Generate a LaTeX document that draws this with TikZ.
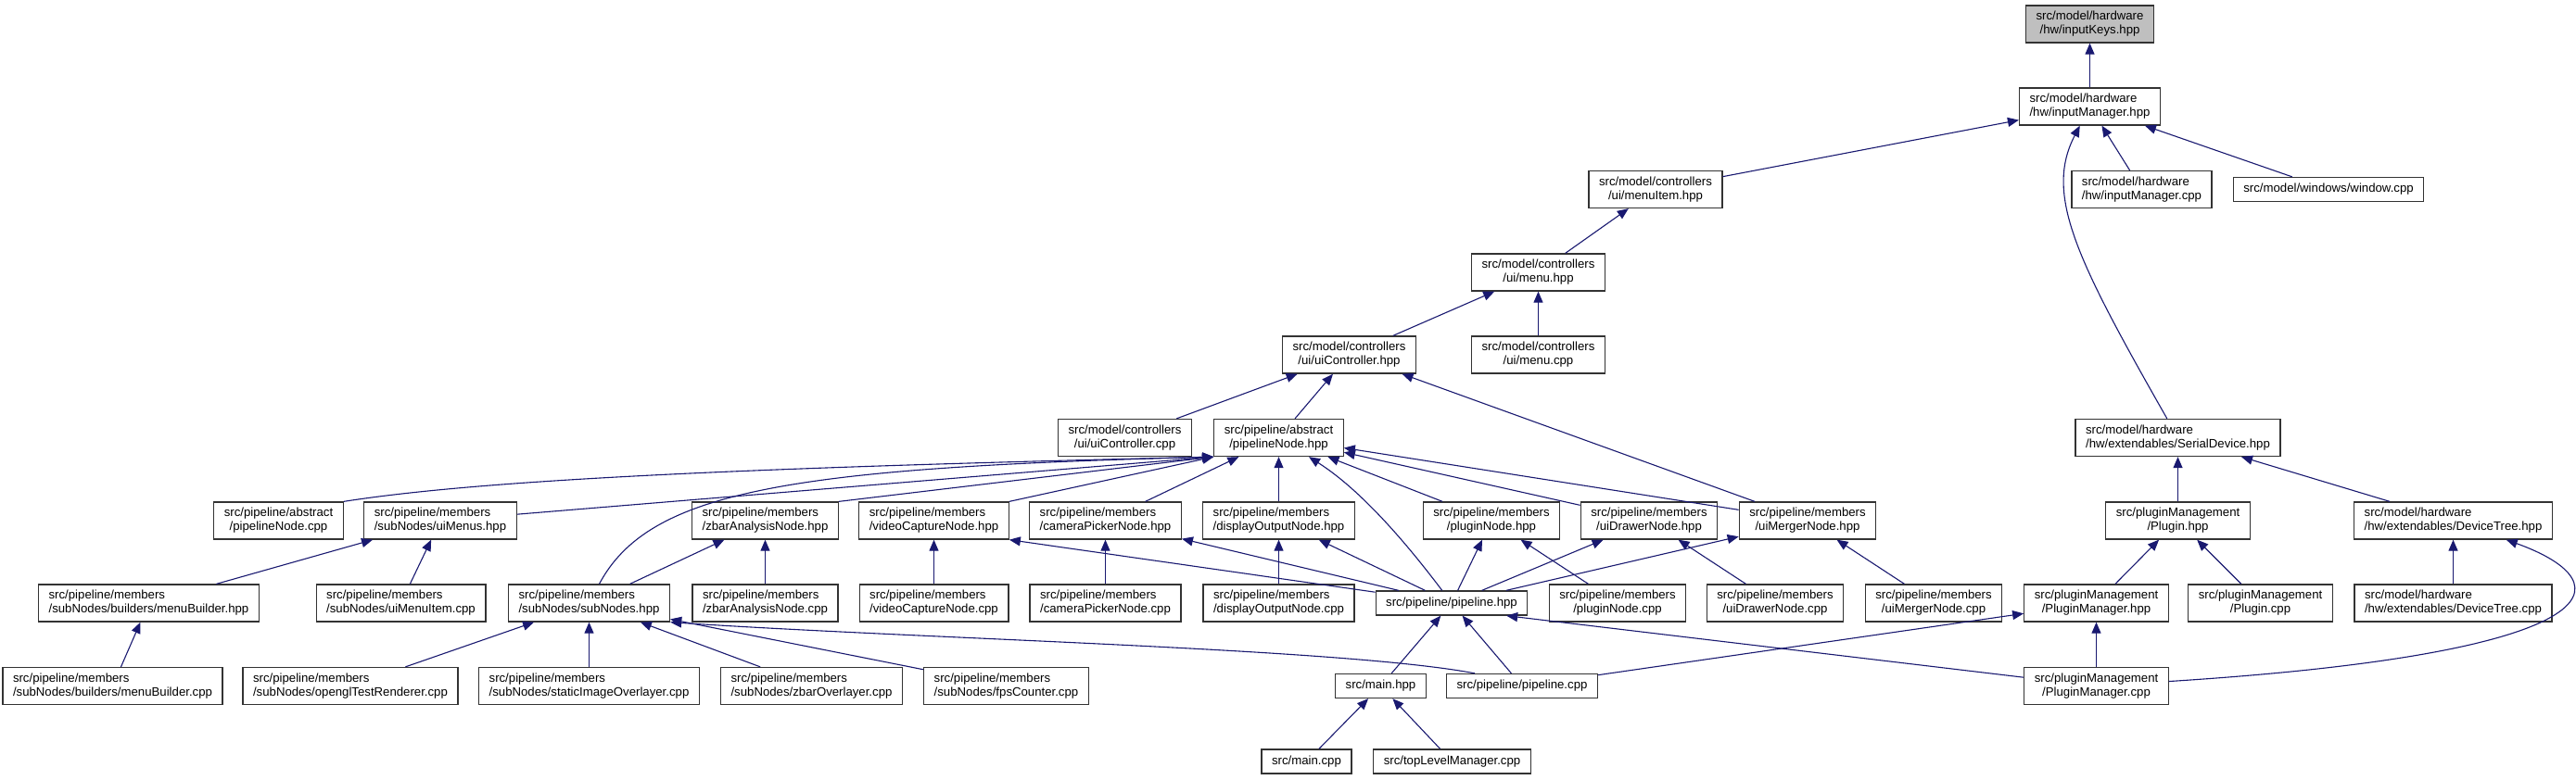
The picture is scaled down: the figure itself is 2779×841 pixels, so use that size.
\documentclass[tikz,border=0pt]{standalone}
\usepackage{fontspec}
\setmainfont{Liberation Sans}
\usepackage{xcolor}
\usepackage{tikz}
\usetikzlibrary{arrows.meta}
\definecolor{edgeblue}{RGB}{25,25,112}
\definecolor{rootgrey}{RGB}{191,191,191}

\begin{document}
\begin{tikzpicture}[x=0.5pt, y=-0.5pt,
		file/.style={draw=black!80, line width=0.65pt, fill=white, font=\fontsize{6.6pt}{7.5pt}\selectfont, inner xsep=5.5pt, inner ysep=0pt, minimum height=20pt, align=center},
		lft/.style={align=left},
		oneline/.style={minimum height=13pt},
		edge/.style={draw=edgeblue, line width=0.55pt, -{Triangle[length=6pt,width=5pt]}}]
		\useasboundingbox (0,0) rectangle (2779,841);

		\node[file, fill=rootgrey] (ikeys) at (2254.5,26) {src/model/hardware\\/hw/inputKeys.hpp};
		\node[file, lft] (imhpp) at (2254.5,115) {src/model/hardware\\/hw/inputManager.hpp};

		\node[file] (mitem) at (1786,204.5) {src/model/controllers\\/ui/menuItem.hpp};
		\node[file, lft] (imcpp) at (2310.5,204.5) {src/model/hardware\\/hw/inputManager.cpp};
		\node[file, oneline] (window) at (2512,204.5) {src/model/windows/window.cpp};

		\node[file] (menuh) at (1659.5,294) {src/model/controllers\\/ui/menu.hpp};

		\node[file] (uich) at (1455.5,383) {src/model/controllers\\/ui/uiController.hpp};
		\node[file] (menuc) at (1659.5,383) {src/model/controllers\\/ui/menu.cpp};

		\node[file] (uicc) at (1213.5,472.5) {src/model/controllers\\/ui/uiController.cpp};
		\node[file] (pnh) at (1379.5,472.5) {src/pipeline/abstract\\/pipelineNode.hpp};
		\node[file, lft] (serial) at (2349.5,472.5) {src/model/hardware\\/hw/extendables/SerialDevice.hpp};

		\node[file] (pnc) at (300.5,562) {src/pipeline/abstract\\/pipelineNode.cpp};
		\node[file, lft] (uimenus) at (475,562) {src/pipeline/members\\/subNodes/uiMenus.hpp};
		\node[file, lft] (zbarh) at (825.5,562) {src/pipeline/members\\/zbarAnalysisNode.hpp};
		\node[file, lft] (videoh) at (1007.5,562) {src/pipeline/members\\/videoCaptureNode.hpp};
		\node[file, lft] (camh) at (1192.5,562) {src/pipeline/members\\/cameraPickerNode.hpp};
		\node[file, lft] (disph) at (1379.5,562) {src/pipeline/members\\/displayOutputNode.hpp};
		\node[file] (plugnh) at (1609,562) {src/pipeline/members\\/pluginNode.hpp};
		\node[file] (drawh) at (1779,562) {src/pipeline/members\\/uiDrawerNode.hpp};
		\node[file] (mergeh) at (1950,562) {src/pipeline/members\\/uiMergerNode.hpp};
		\node[file] (pluginh) at (2349.5,562) {src/pluginManagement\\/Plugin.hpp};
		\node[file, lft] (dtreeh) at (2646.5,562) {src/model/hardware\\/hw/extendables/DeviceTree.hpp};

		\node[file, lft] (mbh) at (160.5,651) {src/pipeline/members\\/subNodes/builders/menuBuilder.hpp};
		\node[file, lft] (uimic) at (432.5,651) {src/pipeline/members\\/subNodes/uiMenuItem.cpp};
		\node[file, lft] (subh) at (635.5,651) {src/pipeline/members\\/subNodes/subNodes.hpp};
		\node[file, lft] (zbarc) at (825.5,651) {src/pipeline/members\\/zbarAnalysisNode.cpp};
		\node[file, lft] (videoc) at (1007.5,651) {src/pipeline/members\\/videoCaptureNode.cpp};
		\node[file, lft] (camc) at (1192.5,651) {src/pipeline/members\\/cameraPickerNode.cpp};
		\node[file, lft] (dispc) at (1379.5,651) {src/pipeline/members\\/displayOutputNode.cpp};
		\node[file, oneline] (pipeh) at (1566,651) {src/pipeline/pipeline.hpp};
		\node[file] (plugnc) at (1745,651) {src/pipeline/members\\/pluginNode.cpp};
		\node[file] (drawc) at (1915,651) {src/pipeline/members\\/uiDrawerNode.cpp};
		\node[file] (mergec) at (2086,651) {src/pipeline/members\\/uiMergerNode.cpp};
		\node[file] (pmh) at (2261.5,651) {src/pluginManagement\\/PluginManager.hpp};
		\node[file] (pluginc) at (2438.5,651) {src/pluginManagement\\/Plugin.cpp};
		\node[file, lft] (dtreec) at (2646.5,651) {src/model/hardware\\/hw/extendables/DeviceTree.cpp};

		\node[file, lft] (mbc) at (121.5,740.5) {src/pipeline/members\\/subNodes/builders/menuBuilder.cpp};
		\node[file, lft] (glc) at (378,740.5) {src/pipeline/members\\/subNodes/openglTestRenderer.cpp};
		\node[file, lft] (sioc) at (635.5,740.5) {src/pipeline/members\\/subNodes/staticImageOverlayer.cpp};
		\node[file, lft] (zoc) at (875.5,740.5) {src/pipeline/members\\/subNodes/zbarOverlayer.cpp};
		\node[file, lft] (fpsc) at (1085.5,740.5) {src/pipeline/members\\/subNodes/fpsCounter.cpp};
		\node[file, oneline] (mainh) at (1489.5,740.5) {src/main.hpp};
		\node[file, oneline] (pipec) at (1642,740.5) {src/pipeline/pipeline.cpp};
		\node[file] (pmc) at (2261.5,740.5) {src/pluginManagement\\/PluginManager.cpp};

		\node[file, oneline] (mainc) at (1409.5,822) {src/main.cpp};
		\node[file, oneline] (toplevel) at (1566.5,822) {src/topLevelManager.cpp};

		\draw[edge] (imhpp) -- (ikeys);
		\draw[edge] (mitem) -- (imhpp);
		\draw[edge] (imcpp) -- (imhpp);
		\draw[edge] (window) -- (imhpp);
		\draw[edge] (serial) .. controls (2240,280) and (2205,210) .. (imhpp);
		\draw[edge] (menuh) -- (mitem);
		\draw[edge] (uich) -- (menuh);
		\draw[edge] (menuc) -- (menuh);
		\draw[edge] (uicc) -- (uich);
		\draw[edge] (pnh) -- (uich);
		\draw[edge] (mergeh) -- (uich);

		\draw[edge] (pnc.north east) .. controls (520,518) and (800,505) .. (pnh.south west);
		\draw[edge] (uimenus) -- (pnh.south west);
		\draw[edge] (subh) .. controls (700,530) and (850,505) .. (pnh.south west);
		\draw[edge] (zbarh.north east) -- (pnh.south west);
		\draw[edge] (videoh.north east) -- (pnh.south west);
		\draw[edge] (camh) -- (pnh);
		\draw[edge] (disph) -- (pnh);
		\draw[edge] (plugnh) -- (pnh);
		\draw[edge] (drawh) -- (pnh);
		\draw[edge] (mergeh) -- (pnh);
		\draw[edge] (pipeh) .. controls (1520,590) and (1470,530) .. (pnh);

		\draw[edge] (mbh) -- (uimenus);
		\draw[edge] (uimic) -- (uimenus);
		\draw[edge] (subh) -- (zbarh);
		\draw[edge] (zbarc) -- (zbarh);
		\draw[edge] (videoc) -- (videoh);
		\draw[edge] (camc) -- (camh);
		\draw[edge] (dispc) -- (disph);
		\draw[edge] (pipeh) -- (videoh.south east);
		\draw[edge] (pipeh) -- (camh);
		\draw[edge] (pipeh) -- (disph);
		\draw[edge] (pipeh) -- (plugnh);
		\draw[edge] (pipeh) -- (drawh);
		\draw[edge] (pipeh) -- (mergeh);
		\draw[edge] (plugnc) -- (plugnh);
		\draw[edge] (drawc) -- (drawh);
		\draw[edge] (mergec) -- (mergeh);

		\draw[edge] (mbc) -- (mbh);
		\draw[edge] (glc) -- (subh);
		\draw[edge] (sioc) -- (subh);
		\draw[edge] (zoc) -- (subh);
		\draw[edge] (fpsc) -- (subh);
		\draw[edge] (pipec.165) .. controls (1450,700) and (1000,690) .. (subh.south east);
		\draw[edge] (mainh) -- (pipeh);
		\draw[edge] (pipec) -- (pipeh);
		\draw[edge] (pmc) -- (pipeh.-13);
		\draw[edge] (pipec) -- (pmh);
		\draw[edge] (mainc) -- (mainh);
		\draw[edge] (toplevel) -- (mainh);

		\draw[edge] (pluginh) -- (serial);
		\draw[edge] (dtreeh) -- (serial);
		\draw[edge] (pmh) -- (pluginh);
		\draw[edge] (pluginc) -- (pluginh);
		\draw[edge] (dtreec) -- (dtreeh);
		\draw[edge] (pmc) -- (pmh);
		\draw[edge] (pmc) .. controls (2820,705) and (2835,630) .. (dtreeh);
	\end{tikzpicture}
\end{document}
